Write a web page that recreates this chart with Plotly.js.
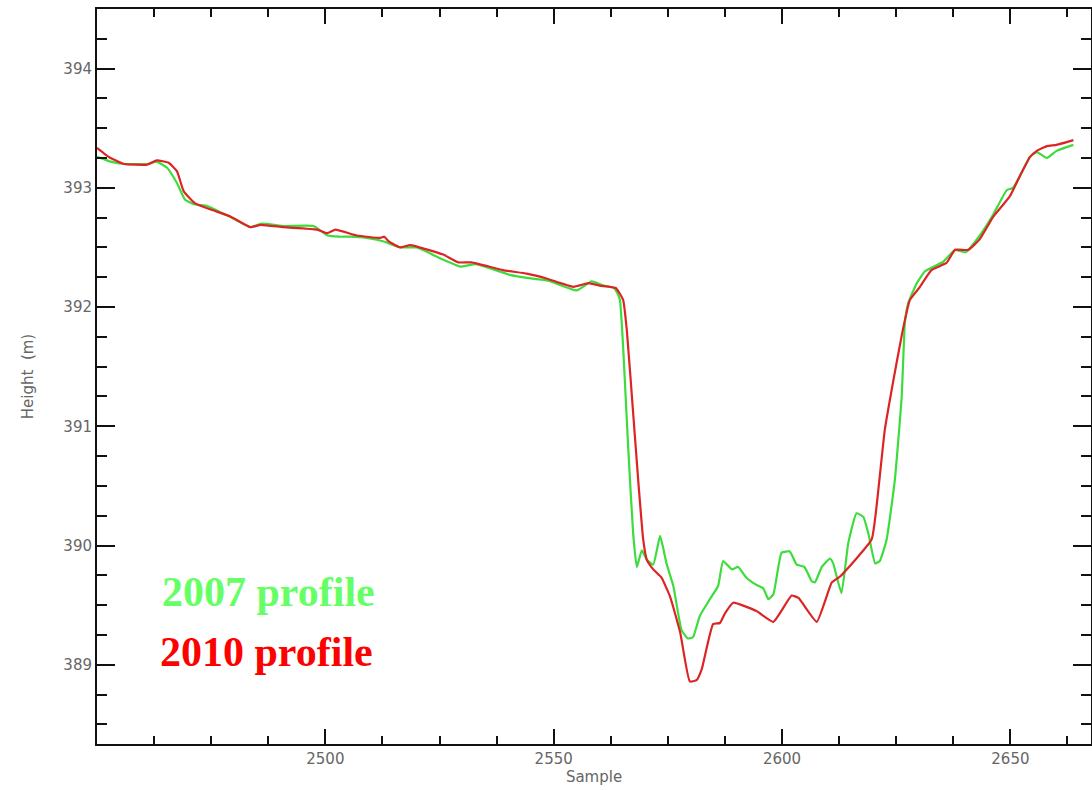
<!DOCTYPE html>
<html>
<head>
<meta charset="utf-8">
<script src="https://cdn.plot.ly/plotly-3.0.1.min.js"></script>
<style>html,body{margin:0;padding:0;background:#fff;overflow:hidden}#chart{width:1092px;height:790px}</style>
</head>
<body>
<div id="chart"></div>
<script>
// Sample positions and heights (m)
const sample2007 = [2450, 2451.5, 2453, 2456, 2461, 2463, 2465.3, 2467.5, 2469.3, 2471.5, 2474, 2479, 2483.6, 2486, 2491, 2497.4, 2500.5, 2503, 2505.5, 2509, 2512.8, 2516.4, 2520, 2525.1, 2529.5, 2533, 2540.4, 2545, 2549, 2555, 2558.3, 2561, 2563.2, 2563.9, 2564.5, 2565.2, 2566.3, 2567.4, 2568.2, 2569.3, 2570.4, 2571.8, 2573.3, 2574.7, 2576.2, 2578, 2579.4, 2580.5, 2582, 2584.2, 2586, 2587.1, 2589, 2590.4, 2592.2, 2594.4, 2595.9, 2597, 2598.1, 2599.9, 2601.7, 2603.2, 2604.9, 2606.5, 2607.2, 2608.7, 2610.5, 2611.2, 2613, 2614.5, 2616.3, 2617.8, 2618.9, 2620.4, 2621.4, 2622.9, 2624.7, 2626.2, 2626.9, 2627.6, 2629.5, 2631.3, 2635.3, 2637.9, 2640.2, 2643.3, 2646.3, 2649.2, 2650.6, 2654.3, 2655.8, 2658, 2660.1, 2663.8];
const height2007 = [393.26, 393.24, 393.22, 393.20, 393.20, 393.22, 393.17, 393.04, 392.90, 392.86, 392.85, 392.76, 392.67, 392.70, 392.68, 392.68, 392.60, 392.59, 392.59, 392.58, 392.55, 392.50, 392.50, 392.41, 392.34, 392.36, 392.27, 392.24, 392.22, 392.14, 392.215, 392.18, 392.16, 392.12, 392.06, 391.67, 390.83, 390.10, 389.82, 389.96, 389.88, 389.84, 390.08, 389.85, 389.66, 389.29, 389.22, 389.23, 389.41, 389.55, 389.66, 389.87, 389.80, 389.82, 389.73, 389.67, 389.64, 389.55, 389.59, 389.94, 389.95, 389.84, 389.82, 389.70, 389.69, 389.82, 389.89, 389.85, 389.60, 390.02, 390.27, 390.24, 390.10, 389.85, 389.87, 390.05, 390.55, 391.25, 391.87, 392.03, 392.20, 392.30, 392.38, 392.48, 392.46, 392.60, 392.78, 392.98, 393.00, 393.26, 393.30, 393.25, 393.31, 393.36];

const sample2010 = [2450, 2451.5, 2453, 2456, 2461, 2463.1, 2465.7, 2467.5, 2469, 2471.5, 2474.8, 2479.2, 2483.6, 2485.8, 2490.9, 2498.2, 2500.4, 2502.2, 2506.9, 2512, 2512.9, 2513.9, 2516.4, 2518.6, 2525.8, 2529.1, 2532, 2538.9, 2544.1, 2548.4, 2554.3, 2557.6, 2560.1, 2563.6, 2565.2, 2566, 2567.4, 2568.5, 2569.6, 2570.4, 2571.8, 2573.6, 2575.5, 2577.7, 2579.8, 2581.3, 2582.4, 2584.9, 2586.4, 2587.5, 2589.3, 2594.4, 2598.1, 2602.1, 2603.6, 2607.6, 2610.9, 2612.7, 2619.6, 2620.7, 2622.5, 2624.4, 2626.4, 2628, 2630.2, 2632.7, 2636, 2637.9, 2640.8, 2643.3, 2646.3, 2649.9, 2652.1, 2654.3, 2655.8, 2658, 2660.1, 2663.8];
const height2010 = [393.335, 393.29, 393.25, 393.20, 393.195, 393.23, 393.21, 393.14, 392.97, 392.87, 392.82, 392.76, 392.67, 392.69, 392.67, 392.65, 392.62, 392.65, 392.60, 392.58, 392.59, 392.55, 392.50, 392.52, 392.44, 392.375, 392.375, 392.31, 392.28, 392.24, 392.17, 392.20, 392.18, 392.16, 392.06, 391.81, 391.11, 390.55, 390.05, 389.88, 389.80, 389.73, 389.57, 389.27, 388.86, 388.87, 388.96, 389.34, 389.35, 389.43, 389.52, 389.45, 389.36, 389.58, 389.56, 389.36, 389.69, 389.74, 390.05, 390.33, 390.97, 391.39, 391.80, 392.06, 392.17, 392.31, 392.37, 392.48, 392.48, 392.57, 392.76, 392.93, 393.10, 393.26, 393.31, 393.35, 393.36, 393.40];

const xTickVals = [2500, 2550, 2600, 2650];
const yTickVals = [389, 390, 391, 392, 393, 394];
const seriesNames = ["2007 profile", "2010 profile"];
const xTitle = "Sample";
const yTitle = "Height  (m)";

const traces = [
  {x: sample2007, y: height2007, mode: "lines", name: seriesNames[0],
   line: {color: "#3ddc3d", width: 2.2, shape: "spline", smoothing: 0.4}, hoverinfo: "x+y"},
  {x: sample2010, y: height2010, mode: "lines", name: seriesNames[1],
   line: {color: "#dd2424", width: 2.2, shape: "spline", smoothing: 0.4}, hoverinfo: "x+y"}
];

const tickFont = {family: "DejaVu Sans", size: 15, color: "#666"};

const layout = {
  width: 1092, height: 790,
  margin: {l: 97, r: 1, t: 9, b: 46},
  paper_bgcolor: "#fff", plot_bgcolor: "#fff",
  showlegend: false,
  xaxis: {
    range: [2450, 2667.65], tickmode: "array", tickvals: xTickVals,
    ticks: "inside", ticklen: 15, tickwidth: 2, tickcolor: "#111",
    minor: {dtick: 12.5, tick0: 2500, ticks: "inside", ticklen: 8, tickwidth: 2, tickcolor: "#111"},
    showline: true, linecolor: "#111", linewidth: 2, mirror: "ticks",
    showgrid: false, zeroline: false, tickfont: tickFont,
    title: {text: xTitle, font: {family: "DejaVu Sans", size: 15, color: "#666"}, standoff: 0}
  },
  yaxis: {
    range: [388.335, 394.5], tickmode: "array", tickvals: yTickVals,
    ticks: "inside", ticklen: 18, tickwidth: 2, tickcolor: "#111",
    minor: {dtick: 0.25, tick0: 389, ticks: "inside", ticklen: 10, tickwidth: 2, tickcolor: "#111"},
    showline: true, linecolor: "#111", linewidth: 2, mirror: "ticks",
    showgrid: false, zeroline: false, tickfont: tickFont,
    title: {text: yTitle, font: {family: "DejaVu Sans", size: 15, color: "#666"}, standoff: 26}
  },
  annotations: [
    {text: "<b>" + seriesNames[0] + "</b>", xref: "paper", yref: "paper", x: 0.063, y: 0.207,
     xanchor: "left", yanchor: "middle", showarrow: false,
     font: {family: "Liberation Serif", size: 42, color: "#66ff66"}},
    {text: "<b>" + seriesNames[1] + "</b>", xref: "paper", yref: "paper", x: 0.061, y: 0.125,
     xanchor: "left", yanchor: "middle", showarrow: false,
     font: {family: "Liberation Serif", size: 42, color: "#ff0000"}}
  ]
};

Plotly.newPlot("chart", traces, layout, {displayModeBar: false, staticPlot: true});
</script>
</body>
</html>
